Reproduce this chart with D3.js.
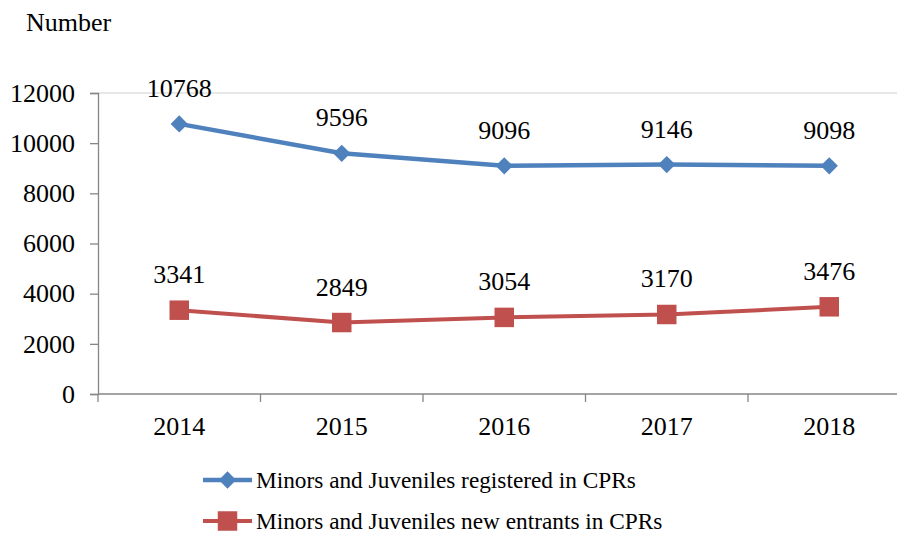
<!DOCTYPE html>
<html>
<head>
<meta charset="utf-8">
<script src="https://cdn.jsdelivr.net/npm/d3@7"></script>
</head>
<body style="margin:0; background:#fff">
<div id="chart"></div>
<script>
// data
let years = ["2014", "2015", "2016", "2017", "2018"]
let registered = [10768, 9596, 9096, 9146, 9098]
let newEntrants = [3341, 2849, 3054, 3170, 3476]
let yTicks = [0, 2000, 4000, 6000, 8000, 10000, 12000]
let seriesNames = [
  "Minors and Juveniles registered in CPRs",
  "Minors and Juveniles new entrants in CPRs",
]

let width = 897
let height = 533
let blue = "#4f81bd"
let red = "#c0504d"
let axisGray = "#868686"
let font = "Liberation Serif"
let fontSize = 26

const svg = d3
  .select("#chart")
  .append("svg")
  .attr("width", width)
  .attr("height", height)
  .attr("font-family", font)
  .style("display", "block")

// plot area runs past the right edge of the picture
let x = d3.scaleBand().domain(years).range([98, 910.5])
let y = d3.scaleLinear().domain([0, 12000]).range([394, 93])

// top border line
svg
  .append("line")
  .attr("x1", x.range()[0])
  .attr("x2", width)
  .attr("y1", y(12000))
  .attr("y2", y(12000))
  .attr("stroke", "#cfcfcf")
  .attr("stroke-width", 1)

// y axis
const yAxis = svg
  .append("g")
  .attr("transform", `translate(${x.range()[0]},0)`)
  .call(d3.axisLeft(y).tickValues(yTicks).tickSize(8).tickPadding(15).tickFormat(d3.format("d")))
yAxis.attr("font-family", font).attr("font-size", fontSize)
yAxis.select(".domain").attr("stroke", axisGray).attr("stroke-width", 1.3)
yAxis.selectAll(".tick line").attr("stroke", axisGray).attr("stroke-width", 1.3)
yAxis
  .selectAll(".tick text")
  .attr("fill", "#000")
  .attr("font-family", font)
  .attr("font-size", fontSize)

// x axis, ticks on band edges
const xAxisG = svg.append("g").attr("transform", `translate(0,${y(0)})`)
xAxisG
  .append("line")
  .attr("x1", x.range()[0])
  .attr("x2", width)
  .attr("stroke", axisGray)
  .attr("stroke-width", 1.3)
xAxisG
  .selectAll("line.edge")
  .data(years)
  .join("line")
  .attr("class", "edge")
  .attr("x1", (d) => x(d))
  .attr("x2", (d) => x(d))
  .attr("y1", 0)
  .attr("y2", 8)
  .attr("stroke", axisGray)
  .attr("stroke-width", 1.3)
xAxisG
  .selectAll("text")
  .data(years)
  .join("text")
  .attr("x", (d) => x(d) + x.bandwidth() / 2)
  .attr("y", 41)
  .attr("text-anchor", "middle")
  .attr("font-family", font)
  .attr("font-size", fontSize)
  .text((d) => d)

// axis title
svg
  .append("text")
  .attr("x", 26)
  .attr("y", 31)
  .attr("font-family", font)
  .attr("font-size", fontSize)
  .text("Number")

let cx = (d, i) => x(years[i]) + x.bandwidth() / 2
let line = d3
  .line()
  .x((d, i) => cx(d, i))
  .y((d) => y(d))

let diamond = d3.symbol().type(d3.symbolDiamond2).size(190)
let square = d3.symbol().type(d3.symbolSquare).size(380)

let series = [
  { values: registered, color: blue, shape: diamond, width: 4.5 },
  { values: newEntrants, color: red, shape: square, width: 4 },
]

series.forEach((s) => {
  svg
    .append("path")
    .datum(s.values)
    .attr("d", line)
    .attr("fill", "none")
    .attr("stroke", s.color)
    .attr("stroke-width", s.width)

  svg
    .append("g")
    .selectAll("path")
    .data(s.values)
    .join("path")
    .attr("transform", (d, i) => `translate(${cx(d, i)},${y(d)})`)
    .attr("d", s.shape())
    .attr("fill", s.color)

  svg
    .append("g")
    .selectAll("text")
    .data(s.values)
    .join("text")
    .attr("x", (d, i) => cx(d, i))
    .attr("y", (d) => y(d) - 27)
    .attr("text-anchor", "middle")
    .attr("font-family", font)
    .attr("font-size", fontSize)
    .text((d) => d)
})

// legend
const legend = svg
  .append("g")
  .selectAll("g")
  .data(series)
  .join("g")
  .attr("transform", (d, i) => `translate(203,${480 + i * 41})`)
legend
  .append("line")
  .attr("x1", 0)
  .attr("x2", 49)
  .attr("stroke", (d) => d.color)
  .attr("stroke-width", (d) => d.width)
legend
  .append("path")
  .attr("transform", "translate(24.5,0)")
  .attr("d", (d) => d.shape())
  .attr("fill", (d) => d.color)
legend
  .append("text")
  .attr("x", 53)
  .attr("y", 8)
  .attr("font-family", font)
  .attr("font-size", 23.3)
  .text((d, i) => seriesNames[i])
</script>
</body>
</html>
